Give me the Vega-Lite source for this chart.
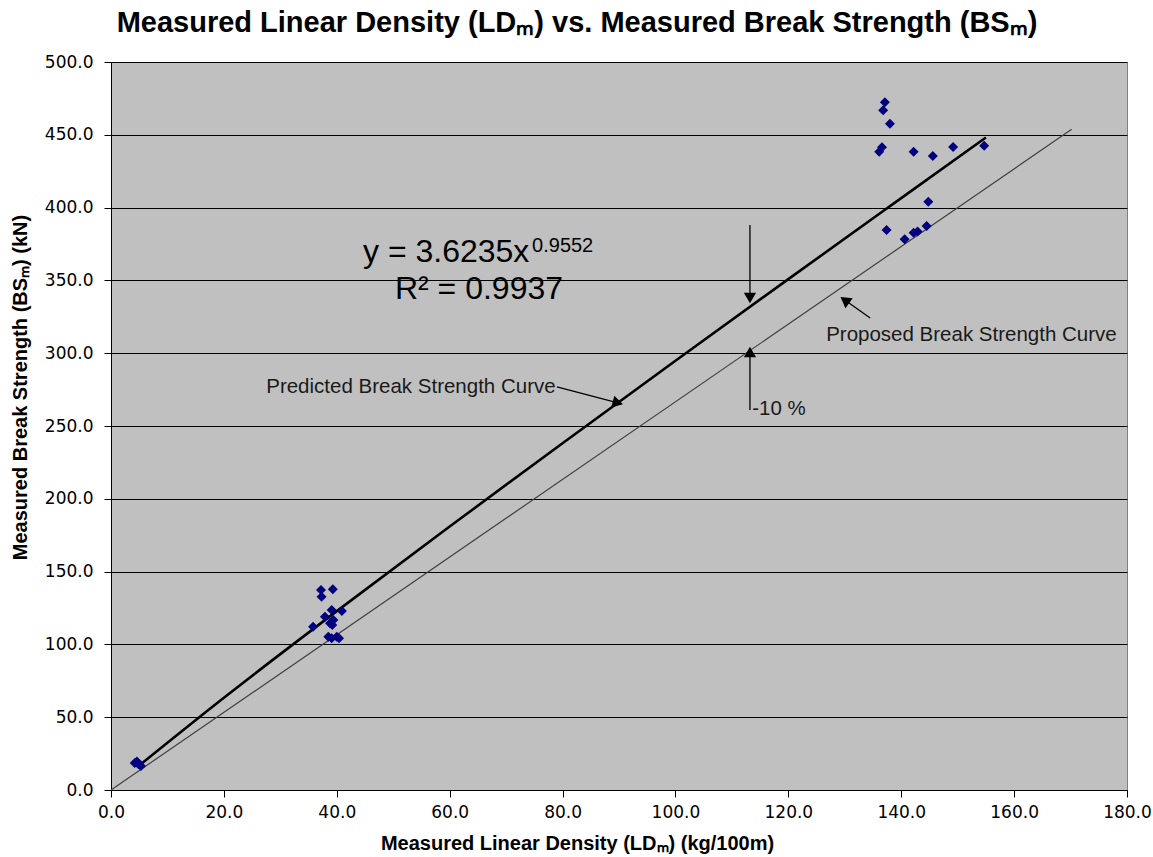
{
  "$schema": "https://vega.github.io/schema/vega-lite/v6.json",
  "autosize": {"type": "none"},
  "width": 1016,
  "height": 728,
  "padding": {"left": 111, "top": 62, "right": 26, "bottom": 67},
  "background": "white",
  "title": {
    "text": "Measured Linear Density (LDₘ) vs. Measured Break Strength (BSₘ)",
    "font": "Liberation Sans",
    "fontSize": 29,
    "fontWeight": "bold",
    "color": "black",
    "anchor": "middle",
    "dx": -42,
    "offset": 15
  },
  "config": {
    "view": {"fill": "#C0C0C0", "stroke": "#808080", "strokeWidth": 1},
    "axis": {
      "labelFont": "DejaVu Sans",
      "labelFontSize": 17,
      "labelColor": "#000000",
      "titleFont": "Liberation Sans",
      "titleFontSize": 20,
      "titleFontWeight": "bold",
      "titleColor": "#000000",
      "domainColor": "#000000",
      "tickColor": "#000000",
      "tickSize": 7,
      "labelFlush": false
    }
  },
  "datasets": {
    "obs": [
      {"ld": 4.2, "bs": 18.5}, {"ld": 4.6, "bs": 19.5}, {"ld": 5.0, "bs": 17.5}, {"ld": 5.3, "bs": 16.5}, {"ld": 4.8, "bs": 18.0},
      {"ld": 37.2, "bs": 137.4}, {"ld": 39.3, "bs": 137.8}, {"ld": 37.3, "bs": 132.8}, {"ld": 39.1, "bs": 123.6},
      {"ld": 40.9, "bs": 122.9}, {"ld": 37.9, "bs": 119.0}, {"ld": 39.4, "bs": 116.8}, {"ld": 38.8, "bs": 114.5},
      {"ld": 39.2, "bs": 113.3}, {"ld": 35.8, "bs": 112.2}, {"ld": 38.5, "bs": 105.3}, {"ld": 40.0, "bs": 105.3},
      {"ld": 40.4, "bs": 104.2}, {"ld": 39.1, "bs": 104.2},
      {"ld": 137.1, "bs": 472.3}, {"ld": 136.8, "bs": 466.8}, {"ld": 138.0, "bs": 457.6}, {"ld": 136.6, "bs": 441.4},
      {"ld": 136.1, "bs": 438.4}, {"ld": 142.2, "bs": 438.4}, {"ld": 145.6, "bs": 435.4}, {"ld": 149.2, "bs": 441.6},
      {"ld": 154.7, "bs": 442.5}, {"ld": 144.8, "bs": 404.1}, {"ld": 137.4, "bs": 384.6}, {"ld": 140.6, "bs": 378.2},
      {"ld": 142.2, "bs": 382.8}, {"ld": 142.9, "bs": 383.5}, {"ld": 144.5, "bs": 387.4}
    ],
    "trend": [
      {"ld": 5, "bs": 16.86}, {"ld": 20, "bs": 63.37}, {"ld": 40, "bs": 122.84}, {"ld": 60, "bs": 180.96},
      {"ld": 80, "bs": 238.2}, {"ld": 100, "bs": 294.8}, {"ld": 120, "bs": 350.9}, {"ld": 140, "bs": 406.5},
      {"ld": 155, "bs": 448.1}
    ],
    "proposed": [
      {"ld": 0, "bs": 0}, {"ld": 170.2, "bs": 453.8}
    ],
    "arrows": [
      {"id": "pred", "x": 79.0, "y": 276.8, "x2": 89.8, "y2": 265.8},
      {"id": "down", "x": 113.2, "y": 388.0, "x2": 113.2, "y2": 337.9},
      {"id": "up", "x": 113.2, "y": 261.0, "x2": 113.2, "y2": 300.8},
      {"id": "prop", "x": 134.5, "y": 324.2, "x2": 130.0, "y2": 336.5}
    ]
  },
  "encoding": {
    "x": {
      "field": "ld", "type": "quantitative",
      "scale": {"domain": [0, 180], "nice": false},
      "axis": {
        "values": [0, 20, 40, 60, 80, 100, 120, 140, 160, 180],
        "format": ".1f",
        "grid": false,
        "title": "Measured Linear Density (LDₘ) (kg/100m)",
        "titleX": 466,
        "titleY": 53,
        "titleBaseline": "middle",
        "labelPadding": 7
      }
    },
    "y": {
      "field": "bs", "type": "quantitative",
      "scale": {"domain": [0, 500], "nice": false},
      "axis": {
        "values": [0, 50, 100, 150, 200, 250, 300, 350, 400, 450, 500],
        "format": ".1f",
        "grid": true,
        "gridColor": "#000000",
        "gridWidth": 1,
        "gridOpacity": 1,
        "title": "Measured Break Strength (BSₘ) (kN)",
        "titleX": -91,
        "titleY": 325,
        "titleAngle": -90,
        "titleBaseline": "middle",
        "labelPadding": 11
      }
    }
  },
  "layer": [
    {
      "data": {"name": "proposed"},
      "mark": {"type": "line", "color": "#404040", "strokeWidth": 1.2}
    },
    {
      "data": {"name": "trend"},
      "mark": {"type": "line", "color": "#000000", "strokeWidth": 2.6, "interpolate": "monotone"}
    },
    {
      "data": {"name": "obs"},
      "mark": {"type": "point", "shape": "diamond", "filled": true, "color": "#000080", "size": 100, "opacity": 1}
    },
    {
      "data": {"name": "arrows"},
      "mark": {"type": "rule", "color": "#000000", "strokeWidth": 1.3},
      "encoding": {
        "x": {"field": "x", "type": "quantitative"},
        "y": {"field": "y", "type": "quantitative"},
        "x2": {"field": "x2"},
        "y2": {"field": "y2"}
      }
    },
    {
      "data": {"name": "arrows"},
      "transform": [{"filter": "datum.id === 'pred'"}],
      "mark": {"type": "point", "shape": "triangle-right", "filled": true, "color": "#000000", "opacity": 1, "size": 150, "angle": 15},
      "encoding": {
        "x": {"field": "x2", "type": "quantitative"},
        "y": {"field": "y2", "type": "quantitative"}
      }
    },
    {
      "data": {"name": "arrows"},
      "transform": [{"filter": "datum.id === 'down'"}],
      "mark": {"type": "point", "shape": "triangle-down", "filled": true, "color": "#000000", "opacity": 1, "size": 150},
      "encoding": {
        "x": {"field": "x2", "type": "quantitative"},
        "y": {"field": "y2", "type": "quantitative"}
      }
    },
    {
      "data": {"name": "arrows"},
      "transform": [{"filter": "datum.id === 'up'"}],
      "mark": {"type": "point", "shape": "triangle-up", "filled": true, "color": "#000000", "opacity": 1, "size": 150},
      "encoding": {
        "x": {"field": "x2", "type": "quantitative"},
        "y": {"field": "y2", "type": "quantitative"}
      }
    },
    {
      "data": {"name": "arrows"},
      "transform": [{"filter": "datum.id === 'prop'"}],
      "mark": {"type": "point", "shape": "triangle-left", "filled": true, "color": "#000000", "opacity": 1, "size": 150, "angle": 36},
      "encoding": {
        "x": {"field": "x2", "type": "quantitative"},
        "y": {"field": "y2", "type": "quantitative"}
      }
    },
    {
      "data": {"values": [{"ld": 44.65, "bs": 362.6, "label": "y = 3.6235x"}]},
      "mark": {"type": "text", "font": "Liberation Sans", "fontSize": 32, "align": "left", "baseline": "alphabetic", "color": "#000000"},
      "encoding": {"text": {"field": "label"}}
    },
    {
      "data": {"values": [{"ld": 74.6, "bs": 369.5, "label": "0.9552"}]},
      "mark": {"type": "text", "font": "Liberation Sans", "fontSize": 20, "align": "left", "baseline": "alphabetic", "color": "#000000"},
      "encoding": {"text": {"field": "label"}}
    },
    {
      "data": {"values": [{"ld": 50.3, "bs": 337.2, "label": "R² = 0.9937"}]},
      "mark": {"type": "text", "font": "Liberation Sans", "fontSize": 32, "align": "left", "baseline": "alphabetic", "color": "#000000"},
      "encoding": {"text": {"field": "label"}}
    },
    {
      "data": {"values": [
        {"ld": 27.5, "bs": 276.8, "label": "Predicted Break Strength Curve"},
        {"ld": 113.6, "bs": 261.7, "label": "-10 %"},
        {"ld": 126.7, "bs": 312.5, "label": "Proposed Break Strength Curve"}
      ]},
      "mark": {"type": "text", "font": "Liberation Sans", "fontSize": 20.5, "align": "left", "baseline": "middle", "color": "#1a1a1a"},
      "encoding": {"text": {"field": "label"}}
    }
  ]
}
